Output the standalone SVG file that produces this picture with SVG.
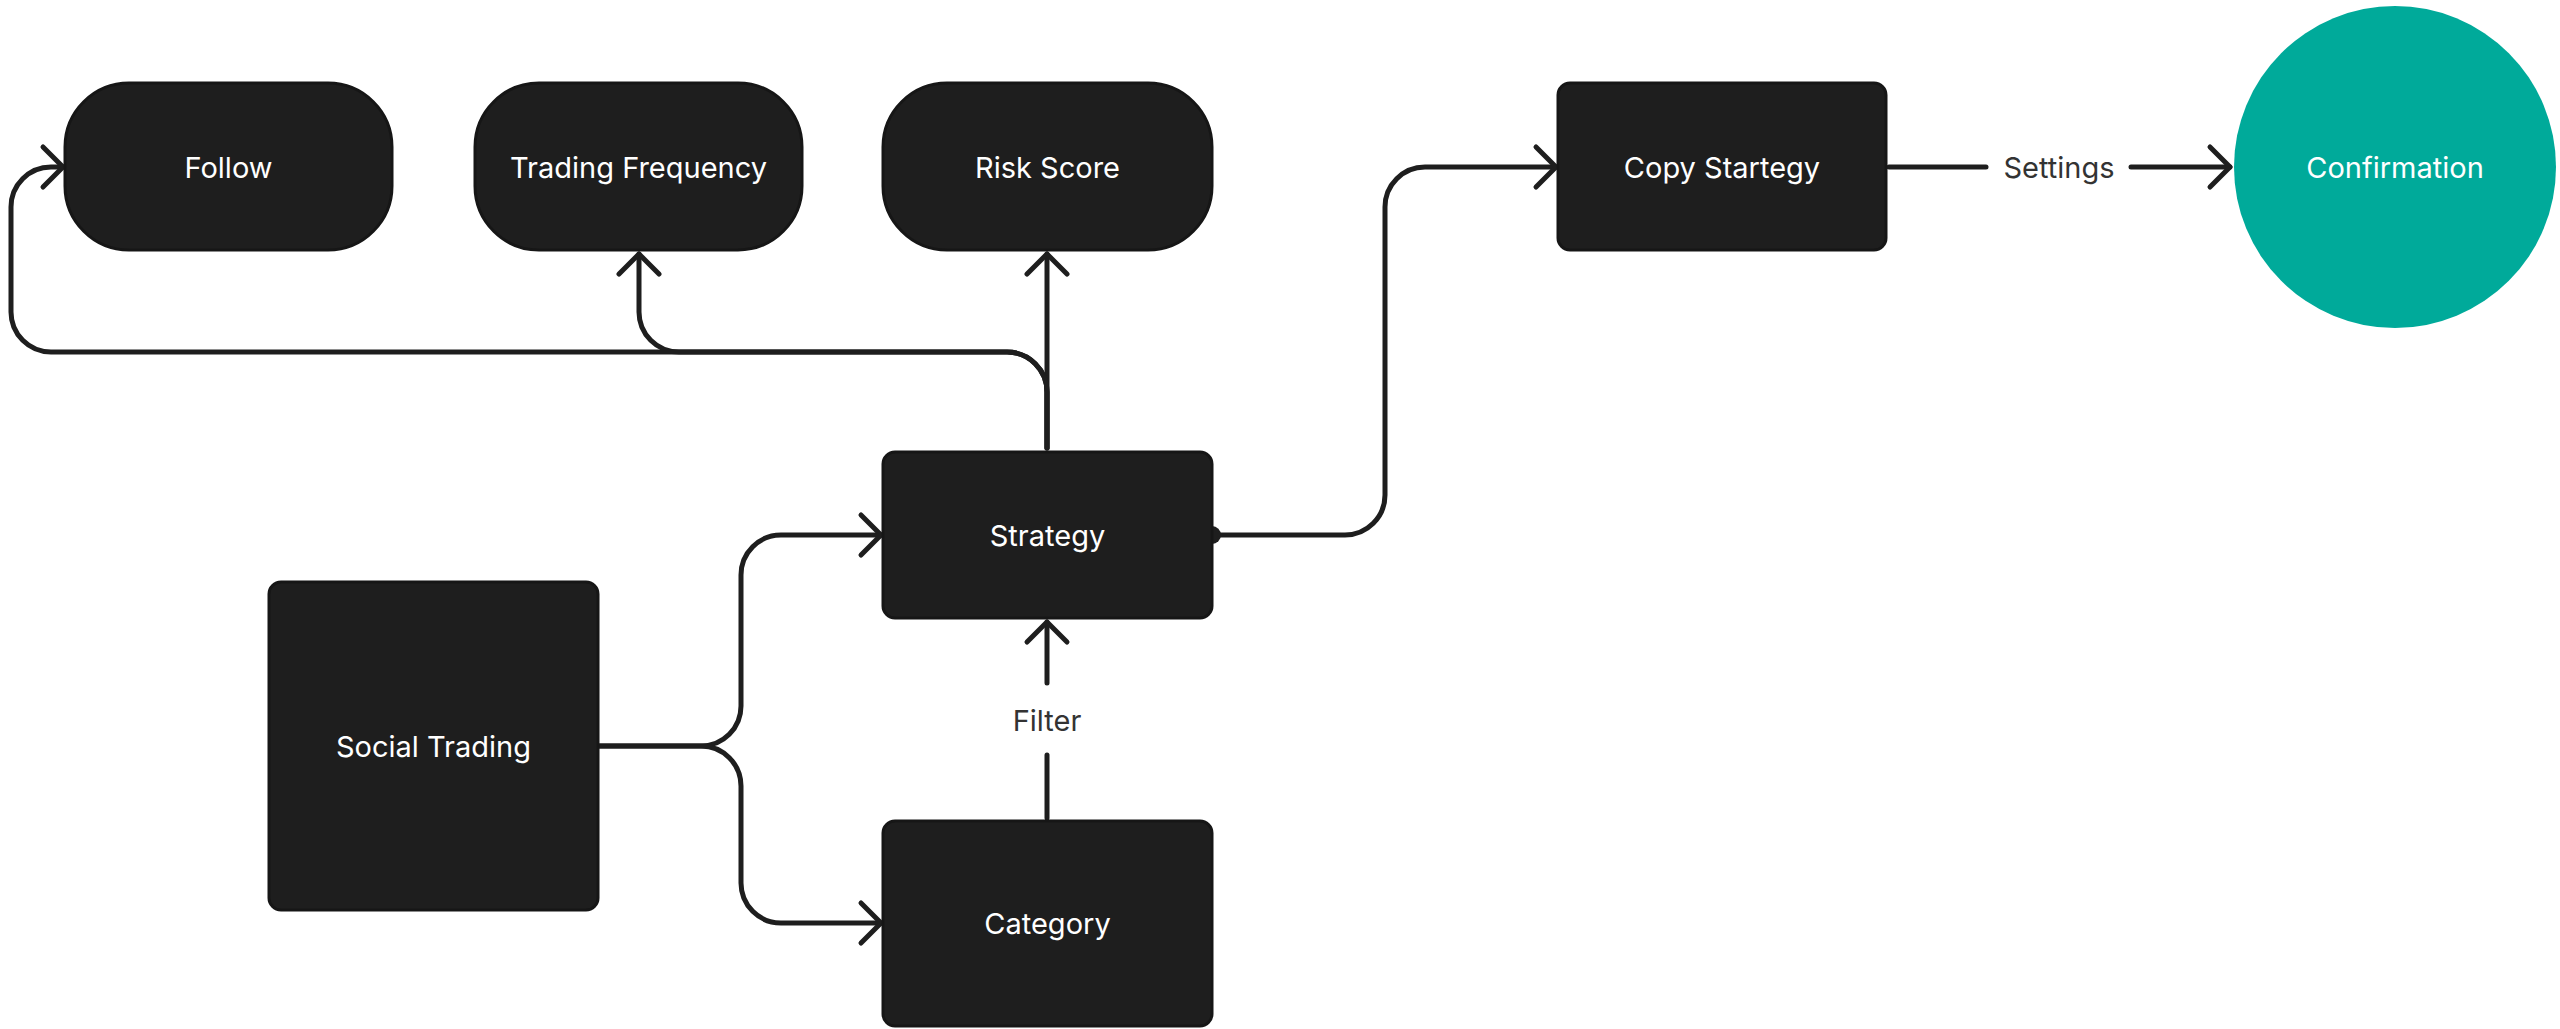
<svg xmlns="http://www.w3.org/2000/svg" width="2560" height="1029" viewBox="0 0 2560 1029">
<style>
.node{fill:#1e1e1e;stroke:#161616;stroke-width:3}
.nt{font-family:Inter,"Noto Sans","Liberation Sans",sans-serif;font-size:29px;fill:#ffffff;text-anchor:middle;dominant-baseline:central}
.lt{font-family:Inter,"Noto Sans","Liberation Sans",sans-serif;font-size:29px;fill:#333333;text-anchor:middle;dominant-baseline:central}
.edge{fill:none;stroke:#1e1e1e;stroke-width:5;stroke-linecap:round;stroke-linejoin:round}
</style>
<defs>
<marker id="arr" markerUnits="userSpaceOnUse" viewBox="-30 -30 60 60" markerWidth="60" markerHeight="60" refX="0" refY="0" orient="auto">
<path d="M-20,-20 L0,0 L-20,20" fill="none" stroke="#1e1e1e" stroke-width="5" stroke-linecap="round" stroke-linejoin="round"/>
</marker>
</defs>
<rect width="2560" height="1029" fill="#ffffff"/>
<g id="connectors">
<path class="edge" d="M1047,448 V254" marker-end="url(#arr)"/>
<path class="edge" d="M1047,448 V392 A40,40 0 0 0 1007,352 H679 A40,40 0 0 1 639,312 V254" marker-end="url(#arr)"/>
<path class="edge" d="M1047,448 V392 A40,40 0 0 0 1007,352 H51 A40,40 0 0 1 11,312 V207 A40,40 0 0 1 51,167 H63" marker-end="url(#arr)"/>
<circle cx="1212" cy="535" r="9" fill="#1e1e1e"/>
<path class="edge" d="M1212,535 H1345 A40,40 0 0 0 1385,495 V207 A40,40 0 0 1 1425,167 H1556" marker-end="url(#arr)"/>
<path class="edge" d="M1889,167 H1986"/>
<path class="edge" d="M2131,167 H2230" marker-end="url(#arr)"/>
<text class="lt" x="2059" y="167">Settings</text>
<path class="edge" d="M598,746 H701 A40,40 0 0 0 741,706 V575 A40,40 0 0 1 781,535 H881" marker-end="url(#arr)"/>
<path class="edge" d="M598,746 H701 A40,40 0 0 1 741,786 V883 A40,40 0 0 0 781,923 H881" marker-end="url(#arr)"/>
<path class="edge" d="M1047,818 V755"/>
<path class="edge" d="M1047,683 V622" marker-end="url(#arr)"/>
<text class="lt" x="1047" y="720">Filter</text>
</g>
<g id="node-follow"><rect class="node" x="65" y="83" width="327" height="167" rx="64"/><text class="nt" x="228.5" y="167">Follow</text></g>
<g id="node-trading-frequency"><rect class="node" x="475" y="83" width="327" height="167" rx="64"/><text class="nt" x="638.5" y="167">Trading Frequency</text></g>
<g id="node-risk-score"><rect class="node" x="883" y="83" width="329" height="167" rx="64"/><text class="nt" x="1047.5" y="167">Risk Score</text></g>
<g id="node-copy-strategy"><rect class="node" x="1558" y="83" width="328" height="167" rx="12"/><text class="nt" x="1722" y="167">Copy Startegy</text></g>
<g id="node-confirmation"><circle cx="2395" cy="167" r="161" fill="#00aa9a"/><text class="nt" x="2395" y="167">Confirmation</text></g>
<g id="node-strategy"><rect class="node" x="883" y="452" width="329" height="166" rx="12"/><text class="nt" x="1047.5" y="535">Strategy</text></g>
<g id="node-social-trading"><rect class="node" x="269" y="582" width="329" height="328" rx="12"/><text class="nt" x="433.5" y="746">Social Trading</text></g>
<g id="node-category"><rect class="node" x="883" y="821" width="329" height="205" rx="12"/><text class="nt" x="1047.5" y="923">Category</text></g>
</svg>
